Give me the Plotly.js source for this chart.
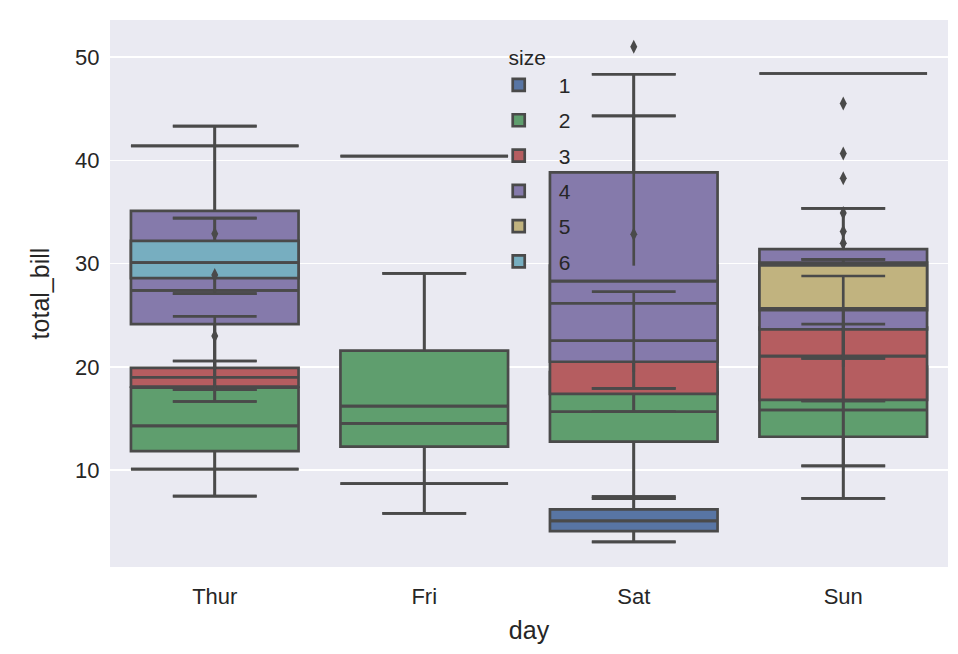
<!DOCTYPE html>
<html>
<head>
<meta charset="utf-8">
<script src="https://cdn.plot.ly/plotly-3.0.1.min.js"></script>
<style>html,body{margin:0;padding:0;background:#ffffff;}</style>
</head>
<body>
<div id="chart" style="width:958px;height:654px;"></div>
<script>
// ---- data ----
const days = ['Thur', 'Fri', 'Sat', 'Sun'];
const sizes = ['1', '2', '3', '4', '5', '6'];
const sizeColors = ['#5875a4', '#5f9e6e', '#b55d60', '#857aab', '#c1b37f', '#77aec0'];

// rows: party size 1..6 ; columns: Thur, Fri, Sat, Sun (null = no such group)
const q1Values = [
  [10.1, 8.7, 4.1, null],
  [11.85, 12.28, 12.76, 13.24],
  [18.1, 16.2, 17.38, 16.8],
  [24.15, 40.4, 20.5, 23.64],
  [41.4, null, 28.3, 25.5],
  [28.6, null, null, 48.4]
];
const medianValues = [
  [10.1, 8.7, 5.1, null],
  [14.3, 14.54, 15.66, 15.83],
  [19.0, 16.2, 22.54, 21.05],
  [27.4, 40.4, 26.16, 25.67],
  [41.4, null, 28.3, 29.85],
  [30.1, null, null, 48.4]
];
const q3Values = [
  [10.1, 8.7, 6.2, null],
  [18.0, 21.57, 19.5, 20.0],
  [19.9, 16.2, 29.8, 23.8],
  [35.1, 40.4, 38.83, 31.41],
  [41.4, null, 28.3, 30.1],
  [32.2, null, null, 48.4]
];
const lowerWhiskerValues = [
  [10.1, 8.7, 3.07, null],
  [7.5, 5.83, 7.45, 7.28],
  [17.8, 16.2, 15.66, 10.41],
  [16.65, 40.4, 17.93, 16.7],
  [41.4, null, 28.3, 20.83],
  [27.1, null, null, 48.4]
];
const upperWhiskerValues = [
  [10.1, 8.7, 7.25, null],
  [24.9, 29.06, 27.28, 28.8],
  [20.57, 16.2, 44.3, 24.15],
  [43.3, 40.4, 48.33, 35.35],
  [41.4, null, 28.3, 30.41],
  [34.4, null, null, 48.4]
];
const flierDays = ['Thur', 'Thur', 'Thur', 'Sat', 'Sat', 'Sun', 'Sun', 'Sun', 'Sun', 'Sun', 'Sun'];
const flierValues = [32.9, 28.9, 23.0, 51.0, 32.83, 45.5, 40.65, 38.25, 34.9, 33.1, 31.96];

// ---- styling ----
const lineColor = '#4a4a4a';
const lineWidth = 2.7;
const boxWidth = 0.8;
const capHalf = 0.2;
const textColor = '#262626';
const fontFamily = '"Liberation Sans", Arial, sans-serif';

const traces = [];

// filled boxes, drawn in hue order (later sizes on top)
sizes.forEach((s, i) => {
  const idx = days.map((d, j) => j).filter(j => q1Values[i][j] !== null);
  traces.push({
    type: 'box',
    name: s,
    legendgroup: s,
    x: idx,
    q1: idx.map(j => q1Values[i][j]),
    median: idx.map(j => medianValues[i][j]),
    q3: idx.map(j => q3Values[i][j]),
    lowerfence: idx.map(j => lowerWhiskerValues[i][j]),
    upperfence: idx.map(j => upperWhiskerValues[i][j]),
    width: boxWidth,
    whiskerwidth: 0.5,
    fillcolor: sizeColors[i],
    line: {color: lineColor, width: lineWidth},
    boxpoints: false,
    hoverinfo: 'skip'
  });
});

// whiskers, caps and medians of every group, drawn above all boxes (as matplotlib does)
const lx = [], ly = [];
function seg(x0, y0, x1, y1) { lx.push(x0, x1, null); ly.push(y0, y1, null); }
sizes.forEach((s, i) => {
  days.forEach((d, j) => {
    const q1 = q1Values[i][j];
    if (q1 === null) return;
    const med = medianValues[i][j], q3 = q3Values[i][j];
    const lo = lowerWhiskerValues[i][j], hi = upperWhiskerValues[i][j];
    seg(j - boxWidth / 2, med, j + boxWidth / 2, med);
    if (lo < q1) { seg(j, q1, j, lo); seg(j - capHalf, lo, j + capHalf, lo); }
    if (hi > q3) { seg(j, q3, j, hi); seg(j - capHalf, hi, j + capHalf, hi); }
  });
});
traces.push({
  type: 'scatter', mode: 'lines', x: lx, y: ly,
  line: {color: lineColor, width: lineWidth},
  showlegend: false, hoverinfo: 'skip'
});

// outliers
traces.push({
  type: 'scatter', mode: 'markers',
  x: flierDays.map(d => days.indexOf(d)), y: flierValues,
  marker: {symbol: 'diamond-tall', size: 10, color: lineColor},
  showlegend: false, hoverinfo: 'skip'
});

const layout = {
  width: 958, height: 654,
  margin: {l: 110, r: 10, t: 20, b: 87},
  paper_bgcolor: '#ffffff',
  plot_bgcolor: '#eaeaf2',
  font: {family: fontFamily, color: textColor, size: 22},
  boxmode: 'overlay',
  showlegend: true,
  xaxis: {
    range: [-0.5, 3.5],
    tickmode: 'array', tickvals: days.map((d, j) => j), ticktext: days,
    showgrid: false, zeroline: false, showline: false,
    ticks: 'outside', ticklen: 10, tickcolor: 'rgba(0,0,0,0)',
    tickfont: {size: 22, color: textColor},
    title: {text: 'day', font: {size: 25, color: textColor}, standoff: 13}
  },
  yaxis: {
    range: [0.63, 53.58],
    tickmode: 'array', tickvals: [10, 20, 30, 40, 50],
    showgrid: true, gridcolor: '#ffffff', gridwidth: 1.5,
    zeroline: false, showline: false,
    ticks: 'outside', ticklen: 5, tickcolor: 'rgba(0,0,0,0)',
    tickfont: {size: 22, color: textColor},
    title: {text: 'total_bill', font: {size: 25, color: textColor}, standoff: 18}
  },
  legend: {
    x: 0.44, y: 0.968, xanchor: 'left', yanchor: 'top',
    bgcolor: 'rgba(0,0,0,0)',
    font: {size: 21, color: textColor},
    title: {text: 'size', side: 'top center', font: {size: 21, color: textColor}},
    itemwidth: 70,
    tracegroupgap: 5
  }
};

Plotly.newPlot('chart', traces, layout, {displayModeBar: false, staticPlot: true});
</script>
</body>
</html>
